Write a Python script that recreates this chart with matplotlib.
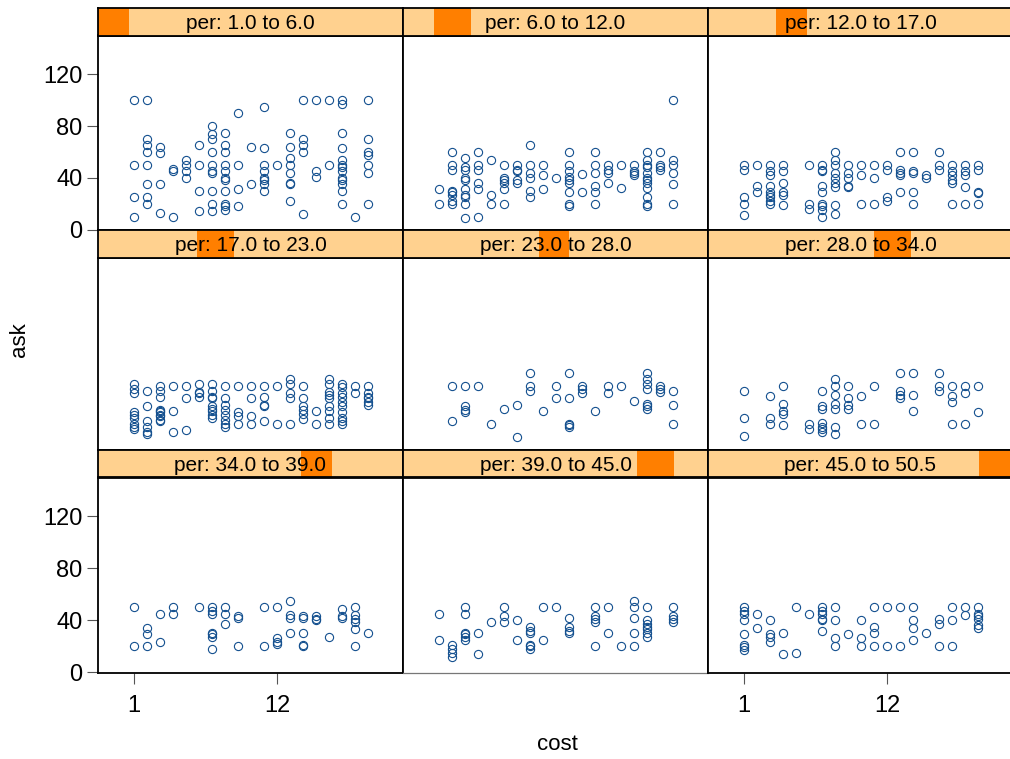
import matplotlib
matplotlib.use("Agg")
import matplotlib.pyplot as plt
from matplotlib.patches import Rectangle

plt.rcParams['font.family'] = ['Liberation Sans', 'DejaVu Sans']

# shingle intervals of "per"
per_lo = [1.0, 6.0, 12.0, 17.0, 23.0, 28.0, 34.0, 39.0, 45.0]
per_hi = [6.0, 12.0, 17.0, 23.0, 28.0, 34.0, 39.0, 45.0, 50.5]
per_min, per_max = 1.0, 50.5

# ask values by cost, one dict per panel
p1 = {1: [100, 50, 25, 10], 2: [100, 70, 65, 60, 50, 35, 25, 20], 3: [64, 59, 35, 13],
      4: [47, 45, 10], 5: [54, 50, 45, 40], 6: [65, 50, 30, 14],
      7: [80, 74, 70, 60, 50, 45, 44, 30, 20, 14], 8: [75, 65, 60, 50, 45, 40, 38, 30, 20, 18, 15],
      9: [90, 50, 31, 18], 10: [64, 35], 11: [95, 63, 50, 45, 40, 38, 35, 30], 12: [50],
      13: [75, 64, 55, 50, 44, 36, 35, 22], 14: [100, 70, 65, 60, 12], 15: [100, 45, 41],
      16: [100, 50], 17: [100, 97, 75, 63, 54, 50, 48, 45, 40, 38, 35, 30, 20], 18: [10],
      19: [100, 70, 60, 58, 50, 44, 20]}
p2 = {1: [31, 20], 2: [60, 50, 46, 30, 29, 27, 22, 20], 3: [55, 48, 46, 40, 38, 31, 27, 25, 20, 9],
      4: [60, 50, 46, 36, 31, 10], 5: [54, 27, 20], 6: [50, 40, 38, 36, 31, 20], 7: [50, 46, 45, 38, 36],
      8: [65, 50, 44, 40, 30, 25], 9: [50, 42, 31], 10: [40], 11: [60, 50, 45, 41, 38, 36, 29, 20, 18],
      12: [43, 29], 13: [60, 50, 44, 34, 29, 20], 14: [50, 46, 44, 36], 15: [50, 32], 16: [50, 45, 44, 42],
      17: [60, 54, 50, 48, 44, 40, 38, 36, 32, 25, 20, 18], 18: [60, 50, 48, 46], 19: [100, 54, 50, 44, 35, 20]}
p3 = {1: [50, 46, 25, 20, 11], 2: [50, 34, 29], 3: [50, 45, 42, 34, 29, 27, 25, 22, 20],
      4: [50, 45, 36, 29, 27, 19], 6: [50, 20, 16], 7: [50, 46, 45, 34, 29, 20, 18, 15, 10],
      8: [60, 54, 50, 44, 40, 36, 33, 19, 12], 9: [50, 44, 40, 34, 33], 10: [50, 42, 20], 11: [50, 40, 20],
      12: [50, 46, 25, 22], 13: [60, 46, 44, 42, 29], 14: [60, 45, 44, 29, 20], 15: [42, 40],
      16: [60, 50, 46], 17: [50, 45, 42, 38, 36, 20], 18: [50, 45, 42, 33, 20], 19: [50, 46, 29, 28, 20]}
p4 = {1: [51, 47, 44, 29, 27, 25, 20, 18, 16], 2: [46, 34, 22, 18, 14, 12],
      3: [50, 46, 41, 31, 30, 29, 27, 26, 23, 22], 4: [50, 30, 14], 5: [50, 40, 15], 6: [51, 45, 44, 41],
      7: [51, 46, 41, 40, 34, 32, 30, 27, 25], 8: [50, 40, 35, 31, 27, 23, 20, 18], 9: [50, 29, 26, 20],
      10: [50, 40, 26, 20], 11: [50, 41, 35, 34, 22], 12: [50, 20], 13: [55, 51, 44, 40, 20],
      14: [50, 40, 34, 31, 28, 24], 15: [30, 20], 16: [55, 51, 45, 43, 40, 34, 30, 25, 20],
      17: [51, 49, 44, 41, 37, 34, 29, 25, 22, 20], 18: [50, 44], 19: [50, 44, 41, 40, 37, 35]}
p5 = {2: [50, 22], 3: [50, 34, 31, 29], 4: [50], 5: [20], 6: [32], 7: [35, 10], 8: [60, 50, 46], 9: [30],
      10: [50, 40], 11: [60, 40, 20, 19, 18], 12: [50, 47, 44], 13: [30], 14: [50, 44], 15: [50], 16: [38],
      17: [60, 55, 51, 47, 36, 34, 32], 18: [50, 47, 45], 19: [46, 35, 20]}
p6 = {1: [46, 25, 11], 3: [42, 25, 20], 4: [50, 36, 30, 28, 19], 6: [20, 16], 7: [46, 34, 32, 21, 18, 16, 14],
      8: [55, 50, 43, 36, 32, 18, 12], 9: [50, 40, 35, 32], 10: [42, 20], 11: [50, 20], 13: [60, 46, 43, 40],
      14: [60, 43, 30], 16: [60, 50, 46], 17: [50, 42, 37, 20], 18: [50, 44, 20], 19: [50, 29]}
p7 = {1: [50, 20], 2: [34, 29, 20], 3: [45, 23], 4: [50, 45], 6: [50], 7: [50, 47, 45, 30, 29, 27, 18],
      8: [50, 45, 37], 9: [43, 42, 20], 11: [50, 20], 12: [50, 26, 23, 22], 13: [55, 44, 42, 30],
      14: [43, 42, 30, 21, 20], 15: [43, 41, 40], 16: [27], 17: [49, 43, 42], 18: [50, 44, 41, 39, 33, 20],
      19: [30]}
p8 = {1: [45, 25], 2: [21, 18, 15, 12], 3: [50, 45, 30, 29, 27, 25], 4: [30, 14], 5: [39], 6: [50, 43, 39],
      7: [40, 25], 8: [35, 32, 30, 21, 20, 18], 9: [50, 25], 10: [50], 11: [42, 35, 32, 30],
      13: [50, 43, 41, 39, 20], 14: [50, 30], 15: [20], 16: [55, 50, 42, 30, 20],
      17: [50, 40, 37, 35, 33, 30, 27], 19: [50, 43, 41, 39]}
p9 = {1: [50, 47, 45, 40, 29, 21, 19, 17], 2: [45, 34], 3: [40, 29, 27, 23], 4: [30, 14], 5: [50, 15],
      6: [45], 7: [50, 47, 45, 41, 40, 32], 8: [50, 40, 26, 20], 9: [29], 10: [40, 26, 20],
      11: [50, 35, 30, 20], 12: [50, 20], 13: [50, 20], 14: [50, 40, 34, 25], 15: [30], 16: [41, 37, 20],
      17: [50, 40, 20], 18: [50, 44], 19: [50, 45, 43, 41, 36, 34]}
panels = [p1, p2, p3, p4, p5, p6, p7, p8, p9]

x_ticks = [1, 12]
y_ticks = [0, 40, 80, 120]

W, H = 1010, 759
fig = plt.figure(figsize=(W / 100, H / 100), dpi=100)

col_left = [98, 403, 708]
pw = 305
row_strip_top = [8, 230, 450]
sh = 27.5
ph = [194.5, 192.5, 195]

light = '#FFD18F'
dark = '#FF7F00'
pt_col = '#14508F'

def fx(px):
    return px / W

def fy(py):
    return 1 - py / H

for i, pdata in enumerate(panels):
    r, c = divmod(i, 3)
    left = col_left[c]
    top = row_strip_top[r]
    # panel
    ax = fig.add_axes([fx(left), fy(top + sh + ph[r]), pw / W, ph[r] / H])
    xs, ys = [], []
    for cost, asks in pdata.items():
        for a in asks:
            xs.append(cost)
            ys.append(a)
    ax.plot(xs, ys, linestyle='none', marker='o', markersize=5.9, markerfacecolor='none',
            markeredgecolor=pt_col, markeredgewidth=0.8)
    ax.set_xlim(-1.77, 21.7)
    ax.set_ylim(-0.3, 150)
    for s in ax.spines.values():
        s.set_linewidth(1.3)
        s.set_color('black')
    if r == 2 and c == 1:
        ax.spines['bottom'].set_color('#777777')
        ax.spines['bottom'].set_linewidth(0.9)
    ax.tick_params(axis='both', direction='out', length=8, width=0.8, color='#555555',
                   labelsize=17)
    ax.tick_params(axis='y', pad=3)
    if c == 0 and r in (0, 2):
        ax.set_yticks(y_ticks)
    else:
        ax.set_yticks([])
    if r == 2 and c in (0, 2):
        ax.set_xticks(x_ticks)
        ax.tick_params(axis='x', pad=8)
    else:
        ax.set_xticks([])

    # strip
    sax = fig.add_axes([fx(left), fy(top + sh), pw / W, sh / H])
    sax.set_xlim(0, 1)
    sax.set_ylim(0, 1)
    sax.add_patch(Rectangle((0, 0), 1, 1, facecolor=light, edgecolor='none'))
    x0 = (per_lo[i] - per_min) / (per_max - per_min)
    x1 = (per_hi[i] - per_min) / (per_max - per_min)
    sax.add_patch(Rectangle((x0, 0), x1 - x0, 1, facecolor=dark, edgecolor='none'))
    sax.text(0.5, 0.45, f"per: {per_lo[i]:.1f} to {per_hi[i]:.1f}", ha='center', va='center',
             fontsize=15, color='black')
    sax.set_xticks([])
    sax.set_yticks([])
    for s in sax.spines.values():
        s.set_linewidth(1.3)
        s.set_color('black')

fig.text(fx(557), fy(745), 'cost', ha='center', va='center', fontsize=16)
fig.text(fx(20), fy(340), 'ask', ha='center', va='center', rotation=90, fontsize=16)

fig.savefig('out.png', dpi=100)
